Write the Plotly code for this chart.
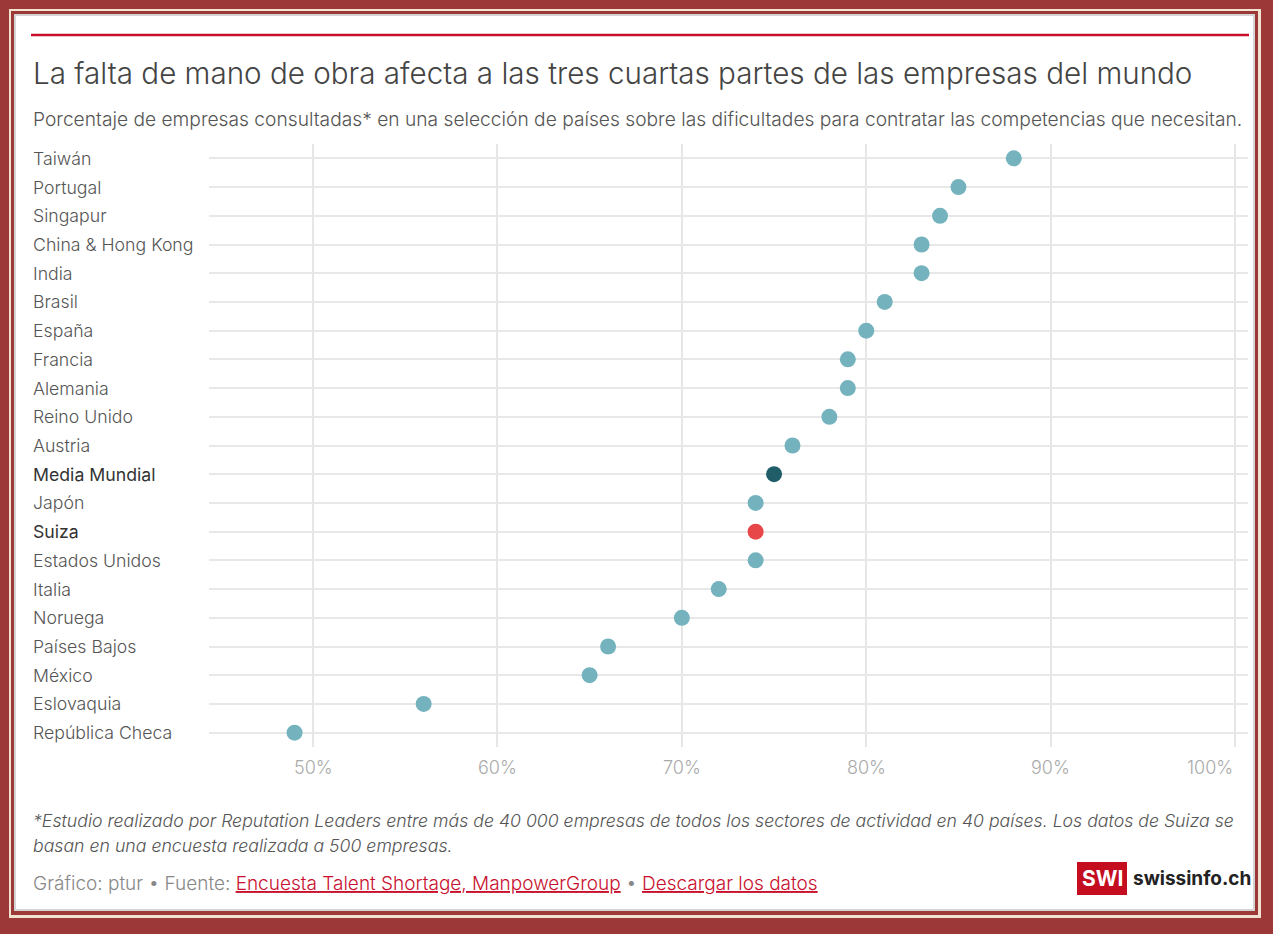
import plotly.graph_objects as go

countries = ["Taiwán", "Portugal", "Singapur", "China & Hong Kong", "India", "Brasil",
             "España", "Francia", "Alemania", "Reino Unido", "Austria", "Media Mundial",
             "Japón", "Suiza", "Estados Unidos", "Italia", "Noruega", "Países Bajos",
             "México", "Eslovaquia", "República Checa"]
values = [88, 85, 84, 83, 83, 81, 80, 79, 79, 78, 76, 75, 74, 74, 74, 72, 70, 66, 65, 56, 49]
tick_vals = [50, 60, 70, 80, 90, 100]
tick_text = ["50%", "60%", "70%", "80%", "90%", "100%"]

W, H = 1273, 934
L, R, T, B = 209, 25, 144, 187
PW, PH = W - L - R, H - T - B

def px(x):
    return (x - L) / PW

def py(y):
    return (H - B - y) / PH

BASE = "#74b3be"
colors = []
for c in countries:
    if c == "Media Mundial":
        colors.append("#1f5e69")
    elif c == "Suiza":
        colors.append("#e8474a")
    else:
        colors.append(BASE)

fig = go.Figure()
fig.add_trace(go.Scatter(
    x=values, y=countries, mode="markers",
    marker=dict(size=16, color=colors, line=dict(width=0)),
    hovertemplate="%{y}: %{x}%<extra></extra>",
))

FONT = "Inter"

shapes = [
    dict(type="rect", xref="paper", yref="paper", x0=px(9), x1=px(1261), y0=py(918), y1=py(9),
         fillcolor="#f1e2d2", line=dict(width=0), layer="below"),
    dict(type="rect", xref="paper", yref="paper", x0=px(11), x1=px(1258), y0=py(915), y1=py(11),
         fillcolor="#9d3838", line=dict(width=0), layer="below"),
    dict(type="rect", xref="paper", yref="paper", x0=px(14), x1=px(1255), y0=py(911), y1=py(14),
         fillcolor="#d4d4d4", line=dict(width=0), layer="below"),
    dict(type="rect", xref="paper", yref="paper", x0=px(16), x1=px(1253), y0=py(909), y1=py(16),
         fillcolor="#ffffff", line=dict(width=0), layer="below"),
    dict(type="line", xref="paper", yref="paper", x0=px(31), x1=px(1249), y0=py(35), y1=py(35),
         line=dict(color="#c8102e", width=2.5), layer="below"),
    dict(type="rect", xref="paper", yref="paper", x0=px(1077), x1=px(1127), y0=py(895), y1=py(862),
         fillcolor="#c40d1e", line=dict(width=0), layer="below"),
]

annotations = [
    dict(text="La falta de mano de obra afecta a las tres cuartas partes de las empresas del mundo",
         xref="paper", yref="paper", x=px(31), y=py(73), xanchor="left", yanchor="middle",
         showarrow=False, font=dict(family=FONT, size=29.6, color="#444444", weight=300)),
    dict(text="Porcentaje de empresas consultadas* en una selección de países sobre las dificultades para contratar las competencias que necesitan.",
         xref="paper", yref="paper", x=px(31), y=py(119), xanchor="left", yanchor="middle",
         showarrow=False, font=dict(family=FONT, size=19.2, color="#555555", weight=300)),
    dict(text="*Estudio realizado por Reputation Leaders entre más de 40 000 empresas de todos los sectores de actividad en 40 países. Los datos de Suiza se",
         xref="paper", yref="paper", x=px(31), y=py(820), xanchor="left", yanchor="middle",
         showarrow=False, font=dict(family=FONT, size=17.7, color="#555555", weight=300, style="italic")),
    dict(text="basan en una encuesta realizada a 500 empresas.",
         xref="paper", yref="paper", x=px(31), y=py(845), xanchor="left", yanchor="middle",
         showarrow=False, font=dict(family=FONT, size=17.7, color="#555555", weight=300, style="italic")),
    dict(text=("Gráfico: ptur • Fuente: <span style='color:#c8102e'><u>Encuesta Talent Shortage, ManpowerGroup</u></span>"
               " • <span style='color:#c8102e'><u>Descargar los datos</u></span>"),
         xref="paper", yref="paper", x=px(31), y=py(883), xanchor="left", yanchor="middle",
         showarrow=False, font=dict(family=FONT, size=19, color="#888888", weight=300)),
    dict(text="<b>SWI</b>", xref="paper", yref="paper", x=px(1102), y=py(879), xanchor="center",
         yanchor="middle", showarrow=False, font=dict(family=FONT, size=21, color="#ffffff")),
    dict(text="<b>swissinfo.ch</b>", xref="paper", yref="paper", x=px(1131), y=py(879), xanchor="left",
         yanchor="middle", showarrow=False, font=dict(family=FONT, size=19, color="#222222")),
]

for c in countries:
    dark = c in ("Media Mundial", "Suiza")
    annotations.append(dict(
        text=c, xref="paper", yref="y", x=px(31), y=c, xanchor="left", yanchor="middle",
        showarrow=False,
        font=dict(family=FONT, size=17.7, color="#333333" if dark else "#555555",
                  weight=400 if dark else 300)))

for i, (tv, tt) in enumerate(zip(tick_vals, tick_text)):
    last = i == len(tick_vals) - 1
    annotations.append(dict(
        text=tt, xref="x", yref="paper", x=tv, y=py(767),
        xanchor="right" if last else "center", yanchor="middle", showarrow=False,
        font=dict(family=FONT, size=18, color="#aaaaaa", weight=300)))

fig.update_layout(
    width=W, height=H,
    margin=dict(l=L, r=R, t=T, b=B, pad=0),
    paper_bgcolor="#9d3838",
    plot_bgcolor="rgba(0,0,0,0)",
    showlegend=False,
    font=dict(family=FONT),
    xaxis=dict(range=[44.36, 100.7], tickvals=tick_vals,
               showgrid=True, gridcolor="#e6e6e6", gridwidth=2, zeroline=False,
               showline=False, ticks="", showticklabels=False, fixedrange=True),
    yaxis=dict(categoryorder="array", categoryarray=countries, range=[20.5, -0.5],
               showgrid=True, gridcolor="#e8e8e8", gridwidth=2, zeroline=False,
               showticklabels=False, ticks="", showline=False, fixedrange=True),
    shapes=shapes,
    annotations=annotations,
)

fig.write_html("out.html", config={"displayModeBar": False},
               post_script="document.body.style.margin='0';document.body.style.padding='0';")
